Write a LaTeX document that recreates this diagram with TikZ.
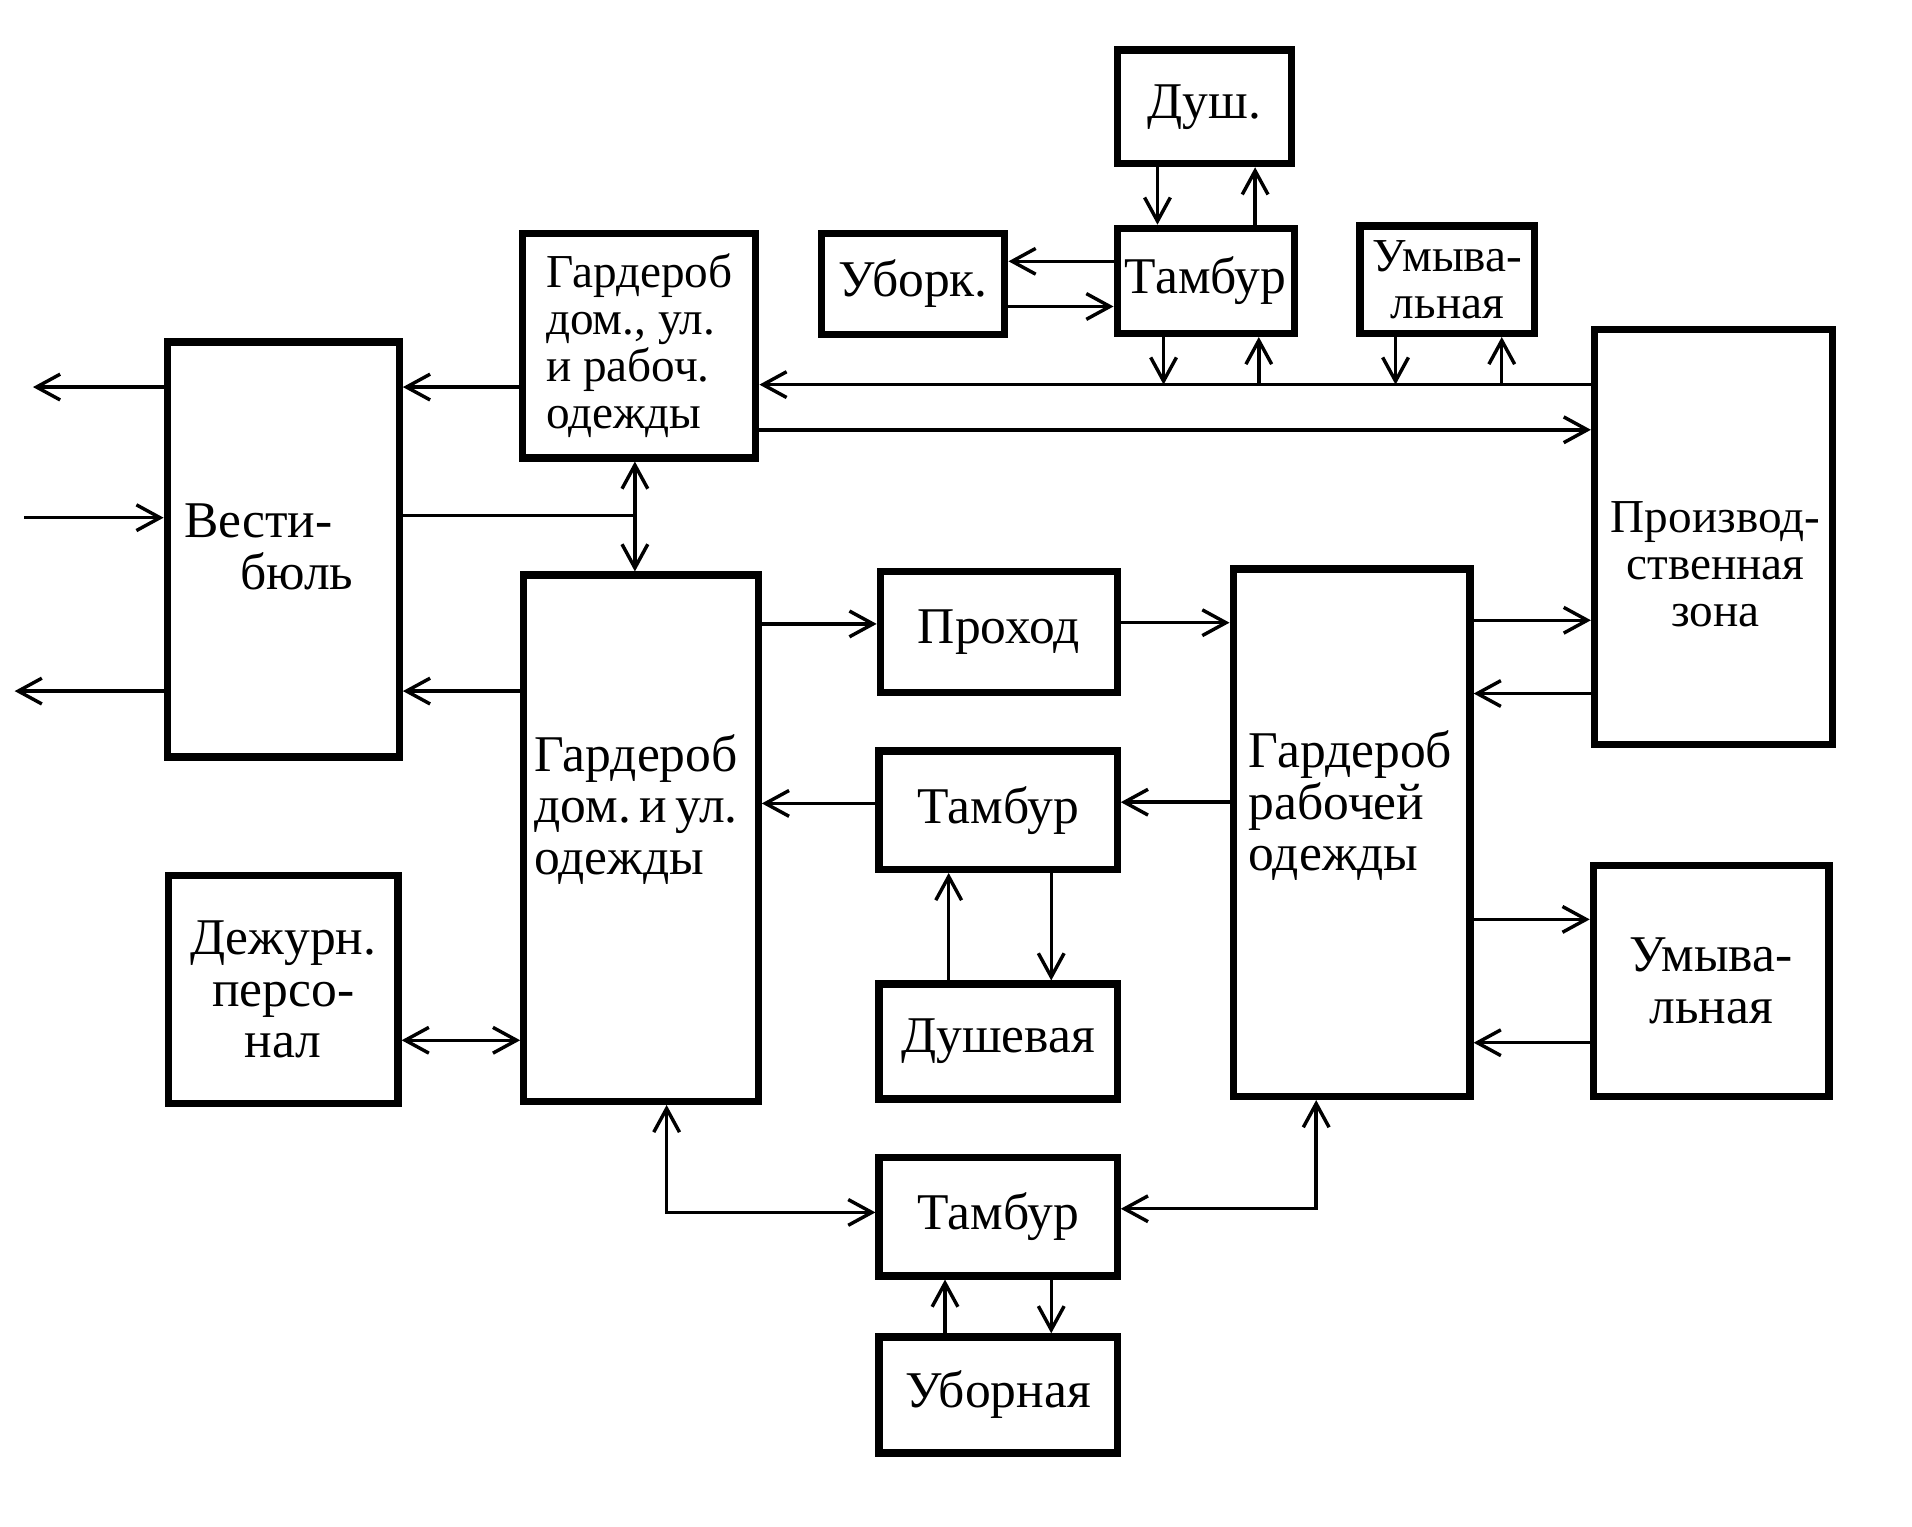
\documentclass[tikz,border=0pt]{standalone}
\usepackage{fontspec}
\setmainfont{Liberation Serif}
\usetikzlibrary{arrows.meta}

\newlength\pxunit
\setlength\pxunit{0.01cm}
\newcommand\lettering{\fontsize{12}{12}\selectfont}
\newcommand\smalllettering{\fontsize{11}{11}\selectfont}

\begin{document}
\begin{tikzpicture}[x=1\pxunit,y=-1\pxunit,
  room/.style 2 args={draw,line width=1.7pt,minimum width=#1\pxunit,minimum height=#2\pxunit,inner sep=0pt,align=center,font=\lettering},
  txt/.style={align=left,inner sep=0pt,font=\lettering},
  flow/.style={line width=0.8pt},
  >={Straight Barb[length=5.5pt,width=6pt]}]
\useasboundingbox (0,0) rectangle (1566,1250);
% rooms
\node[room={190}{340}] (vb) at (232,450) {};
\node[txt,anchor=west] (vb-t) at (150,448) {Вести-\\\hspace*{1.1em}бюль};
\node[room={191}{184},align=left,font=\smalllettering] (gt) at (523.5,283) {Гардероб\\дом., ул.\\и рабоч.\\одежды};
\node[room={150}{83}] (ubk) at (748,232.5) {Уборк.};
\node[room={143}{93}] (dsh) at (986.5,87.5) {Душ.};
\node[room={145}{86}] (tt) at (987.5,230) {Тамбур};
\node[room={143}{88},font=\smalllettering] (ut) at (1185.5,229) {Умыва-\\льная};
\node[room={195}{340}] (pz) at (1403.5,440) {};
\node[txt,align=center,font=\smalllettering] (pz-t) at (1405,462) {Производ-\\ственная\\зона};
\node[room={192}{431}] (gd) at (525,686.5) {};
\node[txt,anchor=west] (gd-t) at (437,663) {Гардероб\\дом.\,и\,ул.\\одежды};
\node[room={194}{99}] (pr) at (818,517.5) {Проход};
\node[room={195}{97}] (tm) at (817.5,663.5) {Тамбур};
\node[room={195}{94}] (dv) at (817.5,853) {Душевая};
\node[room={195}{97}] (tb) at (817.5,996.5) {Тамбур};
\node[room={195}{95}] (ub) at (817.5,1142.5) {Уборная};
\node[room={194}{432}] (gr) at (1107,682) {};
\node[txt,anchor=west] (gr-t) at (1022,660) {Гардероб\\рабочей\\одежды};
\node[room={188}{187}] (dp) at (232,810.5) {Дежурн.\\персо-\\нал};
\node[room={193}{189}] (ur) at (1401.5,803.5) {Умыва-\\льная};
% free ends
\coordinate (out1) at (27,317);
\coordinate (in1) at (20,424);
\coordinate (out2) at (12,566);
% vestibule
\draw[flow,->] (vb.west |- out1) -- (out1);
\draw[flow,->] (in1) -- (vb.west |- in1);
\draw[flow,->] (vb.west |- out2) -- (out2);
\draw[flow,->] (gt.west |- 0,317) -- (vb.east |- 0,317);
\draw[flow] (vb.east |- 0,422) -- (520,422);
\draw[flow,<->] (gt.south -| 520,0) -- (gd.north -| 520,0);
\draw[flow,->] (gd.west |- 0,566) -- (vb.east |- 0,566);
% upper corridor
\draw[flow,->] (pz.west |- 0,315) -- (gt.east |- 0,315);
\draw[flow,->] (gt.east |- 0,352) -- (pz.west |- 0,352);
\draw[flow,->] (tt.south -| 953,0) -- (953,315);
\draw[flow,->] (1031,315) -- (tt.south -| 1031,0);
\draw[flow,->] (ut.south -| 1143,0) -- (1143,315);
\draw[flow,->] (1230,315) -- (ut.south -| 1230,0);
\draw[flow,->] (dsh.south -| 948,0) -- (tt.north -| 948,0);
\draw[flow,->] (tt.north -| 1028,0) -- (dsh.south -| 1028,0);
\draw[flow,->] (tt.west |- 0,214) -- (ubk.east |- 0,214);
\draw[flow,->] (ubk.east |- 0,251) -- (tt.west |- 0,251);
% middle
\draw[flow,->] (gd.east |- 0,511) -- (pr.west |- 0,511);
\draw[flow,->] (pr.east |- 0,510) -- (gr.west |- 0,510);
\draw[flow,->] (gr.east |- 0,508) -- (pz.west |- 0,508);
\draw[flow,->] (pz.west |- 0,568) -- (gr.east |- 0,568);
\draw[flow,->] (gr.west |- 0,657) -- (tm.east |- 0,657);
\draw[flow,->] (tm.west |- 0,658) -- (gd.east |- 0,658);
\draw[flow,->] (dv.north -| 777,0) -- (tm.south -| 777,0);
\draw[flow,->] (tm.south -| 861,0) -- (dv.north -| 861,0);
\draw[flow,->] (gr.east |- 0,753) -- (ur.west |- 0,753);
\draw[flow,->] (ur.west |- 0,854) -- (gr.east |- 0,854);
\draw[flow,<->] (dp.east |- 0,852) -- (gd.west |- 0,852);
% lower
\draw[flow,<->] (gd.south -| 546,0) |- (tb.west |- 0,993);
\draw[flow,<->] (gr.south -| 1078,0) |- (tb.east |- 0,990);
\draw[flow,->] (ub.north -| 774,0) -- (tb.south -| 774,0);
\draw[flow,->] (tb.south -| 861,0) -- (ub.north -| 861,0);
\end{tikzpicture}
\end{document}
